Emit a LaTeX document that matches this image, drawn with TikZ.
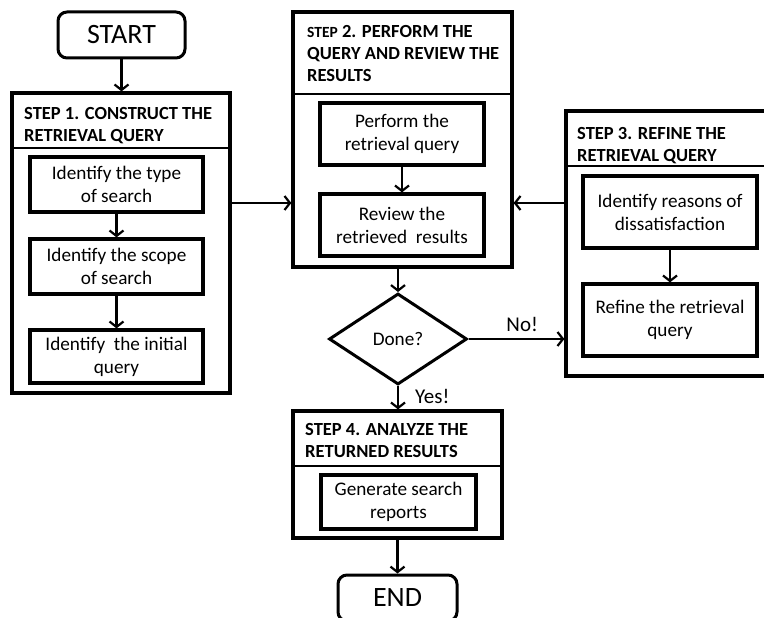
\documentclass[tikz,border=0pt]{standalone}
\usepackage{fontspec}
\setmainfont{Carlito}
\usepackage{tikz}
\usetikzlibrary{arrows.meta,positioning,shapes.geometric,calc}

\begin{document}
\begin{tikzpicture}[x=1pt, y=-1pt,
    terminal/.style={draw, rounded corners=9pt, line width=3pt, minimum width=119pt, minimum height=46pt, inner sep=0pt, font=\fontsize{28}{30}\selectfont},
    stepbox/.style={draw, line width=3.2pt, inner sep=0pt},
    task/.style={draw, line width=3.2pt, align=center, inner sep=0pt, font=\fontsize{19.2}{23}\selectfont},
    head/.style={anchor=north west, align=left, inner sep=0pt, font=\fontsize{18.5}{22}\selectfont\bfseries},
    decision/.style={draw, diamond, line width=3pt, inner sep=0pt, minimum width=138pt, minimum height=91pt, font=\fontsize{19.2}{23}\selectfont},
    lbl/.style={inner sep=0pt, font=\fontsize{21}{24}\selectfont},
    sep/.style={line width=1.3pt},
    arr/.style={-{Straight Barb[length=5.5pt,width=14pt]}, line width=2.2pt}
  ]
    \clip (0,0) rectangle (764,618);

    % Start and end
    \node[terminal, minimum width=127pt] (start) at (121.5,35) {START};
    \node[terminal] (end) at (397.5,598) {END};

    % Step 1
    \node[stepbox, minimum width=218pt, minimum height=300pt] (s1) at (121,243) {};
    \node[head] (s1h) at (24,107) {STEP 1. CONSTRUCT THE\\RETRIEVAL QUERY};
    \coordinate (s1sep) at (0,148);
    \node[task, minimum width=173pt, minimum height=55pt] (t11) at (116.5,184.5) {Identify the type\\of search};
    \node[task, minimum width=173pt, minimum height=55pt] (t12) at (116.5,266.5) {Identify the scope\\of search};
    \node[task, minimum width=173pt, minimum height=53pt] (t13) at (116.5,356.5) {Identify\ \ the initial\\query};

    % Step 2
    \node[stepbox, minimum width=219pt, minimum height=255pt] (s2) at (402.5,139.5) {};
    \node[head] (s2h) at (307,25) {{\fontsize{15.5}{22}\selectfont STEP} 2. PERFORM THE\\QUERY AND REVIEW THE\\RESULTS};
    \coordinate (s2sep) at (0,94);
    \node[task, minimum width=164pt, minimum height=62pt] (t21) at (402,134) {Perform the\\retrieval query};
    \node[task, minimum width=164pt, minimum height=62pt] (t22) at (402,225) {Review the\\retrieved\ \ results};

    % Step 3
    \node[stepbox, minimum width=216pt, minimum height=265pt] (s3) at (674,243.5) {};
    \node[head] (s3h) at (577,127) {STEP 3. REFINE THE\\RETRIEVAL QUERY};
    \coordinate (s3sep) at (0,166);
    \node[task, minimum width=174pt, minimum height=72pt] (t31) at (670,212) {Identify reasons of\\dissatisfaction};
    \node[task, minimum width=174pt, minimum height=72pt] (t32) at (670,320) {Refine the retrieval\\query};

    % Decision
    \node[decision] (done) at (398,339) {Done?};

    % Step 4
    \node[stepbox, minimum width=209pt, minimum height=127pt] (s4) at (397.5,474.5) {};
    \node[head] (s4h) at (305,423) {STEP 4. ANALYZE THE\\RETURNED RESULTS};
    \coordinate (s4sep) at (0,466);
    \node[task, minimum width=155pt, minimum height=54pt] (t41) at (398.5,502) {Generate search\\reports};

    % Header separators
    \draw[sep] (s1.west |- s1sep) -- (s1.east |- s1sep);
    \draw[sep] (s2.west |- s2sep) -- (s2.east |- s2sep);
    \draw[sep] (s3.west |- s3sep) -- (s3.east |- s3sep);
    \draw[sep] (s4.west |- s4sep) -- (s4.east |- s4sep);

    % Arrows inside the steps
    \draw[arr] (t11) -- (t12);
    \draw[arr] (t12) -- (t13);
    \draw[arr] (t21) -- (t22);
    \draw[arr] (t31) -- (t32);

    % Arrows between the steps
    \coordinate (mid) at (0,203);
    \draw[arr] (start) -- (start |- s1.north);
    \draw[arr] (s1.east |- mid) -- (s2.west |- mid);
    \draw[arr] (s3.west |- mid) -- (s2.east |- mid);
    \draw[arr] (done.north |- s2.south) -- (done.north);
    \draw[arr] (done.east) -- (s3.west |- done.east) node[lbl, pos=0.56, above=6pt] (no) {No!};
    \draw[arr] (done.south) -- (done.south |- s4.north) node[lbl, pos=0.45, right=16pt] (yes) {Yes!};
    \draw[arr] (end.north |- s4.south) -- (end.north);
\end{tikzpicture}
\end{document}
